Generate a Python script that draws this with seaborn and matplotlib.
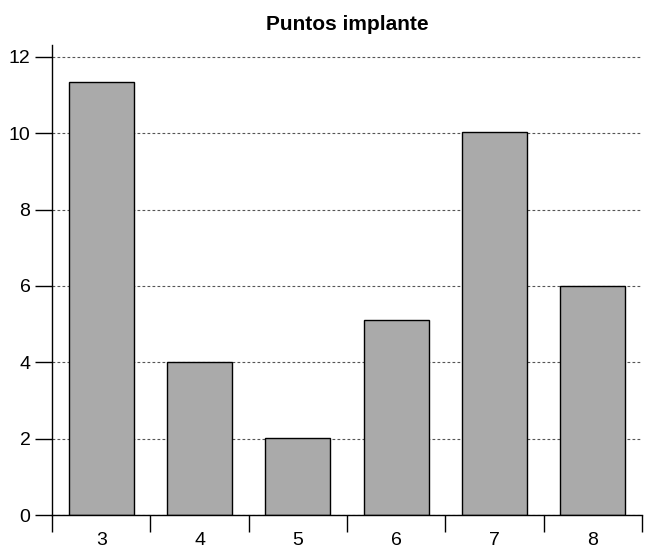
import matplotlib
matplotlib.use("Agg")
import matplotlib.pyplot as plt
from matplotlib.ticker import FixedLocator
import seaborn as sns
import pandas as pd

categories = ["3", "4", "5", "6", "7", "8"]
values = [11.35, 4.0, 2.03, 5.11, 10.03, 6.0]
y_ticks = [0, 2, 4, 6, 8, 10, 12]
title = "Puntos implante"

sns.set_theme(style="white")
plt.rcParams["font.family"] = ["Liberation Sans", "DejaVu Sans"]
plt.rcParams["text.color"] = "black"

df = pd.DataFrame({"cat": categories, "val": values})

fig = plt.figure(figsize=(6.47, 5.51), dpi=100)
ax = fig.add_axes([0.0804, 0.0653, 0.9119, 0.853])

sns.barplot(data=df, x="cat", y="val", color="#aaaaaa", saturation=1,
            edgecolor="black", linewidth=1.0, width=0.66, ax=ax, zorder=3)

ax.set_xlim(-0.5, len(categories) - 0.5)
ax.set_ylim(0, 12.31)
ax.set_yticks(y_ticks)
ax.yaxis.grid(True, linestyle=(0, (2.5, 2)), color="#555555", linewidth=0.8, zorder=0)
ax.xaxis.grid(False)

for s in ["top", "right"]:
    ax.spines[s].set_visible(False)
for s in ["left", "bottom"]:
    ax.spines[s].set_color("black")
    ax.spines[s].set_linewidth(1.0)
    ax.spines[s].set_zorder(4)

# category separators as minor ticks on the x axis
ax.xaxis.set_minor_locator(FixedLocator([i - 0.5 for i in range(len(categories) + 1)]))
ax.tick_params(axis="x", which="major", length=0, pad=12, labelsize=14, colors="black")
ax.tick_params(axis="x", which="minor", length=12, width=1.0, color="black", direction="out", bottom=True)
ax.tick_params(axis="y", which="major", length=12, width=1.0, color="black", direction="out",
               left=True, pad=3.5, labelsize=14, labelcolor="black")

ax.set_xlabel("")
ax.set_ylabel("")
ax.set_title(title, fontsize=15, fontweight="bold", pad=11, color="black")

fig.savefig("out.png", dpi=100)
